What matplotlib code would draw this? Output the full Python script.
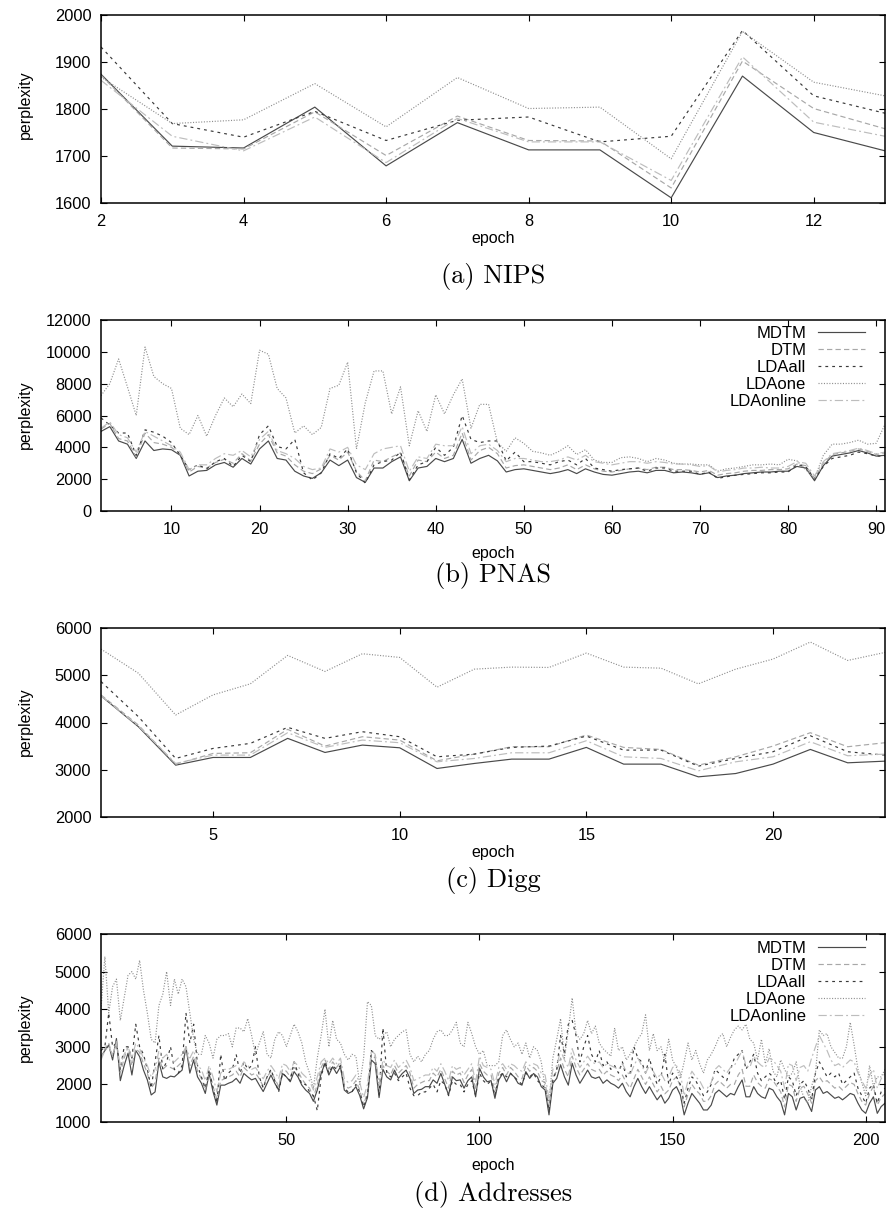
import numpy as np
import matplotlib
matplotlib.use("Agg")
import matplotlib.pyplot as plt

plt.rcParams['font.family'] = ['Liberation Sans', 'DejaVu Sans']

series_names = ["MDTM", "DTM", "LDAall", "LDAone", "LDAonline"]

# ---------------- (a) NIPS : epochs 2..13 ----------------
nips_mdtm = [1874, 1721, 1717, 1804, 1679, 1771, 1713, 1713, 1611, 1870, 1750, 1711]
nips_dtm = [1872, 1717, 1715, 1794, 1701, 1785, 1733, 1732, 1632, 1902, 1801, 1758]
nips_ldaall = [1932, 1769, 1740, 1795, 1733, 1776, 1783, 1730, 1742, 1967, 1828, 1791]
nips_ldaone = [1868, 1769, 1777, 1854, 1762, 1867, 1801, 1804, 1694, 1965, 1857, 1828]
nips_ldaonline = [1861, 1742, 1711, 1783, 1686, 1780, 1730, 1730, 1648, 1911, 1772, 1742]

# ---------------- (b) PNAS : epochs 2..91 ----------------
pnas_mdtm = [5000, 5300, 4400, 4200, 3300, 4400, 3800, 3900, 3850, 3500,
             2200, 2500, 2550, 2900, 3050, 2750, 3300, 2950, 3900, 4400,
             3300, 3200, 2500, 2200, 2050, 2400, 3200, 2850, 3200, 2100,
             1800, 2700, 2700, 3100, 3400, 1900, 2700, 2800, 3300, 3100,
             3300, 4500, 3000, 3300, 3500, 3150, 2450, 2600, 2650, 2550,
             2450, 2350, 2450, 2600, 2350, 2650, 2450, 2300, 2250, 2350,
             2450, 2500, 2400, 2550, 2550, 2400, 2450, 2400, 2300, 2400,
             2100, 2200, 2250, 2350, 2400, 2450, 2450, 2500, 2500, 2800,
             2700, 1900, 2850, 3450, 3550, 3650, 3800, 3650, 3450, 3500]
pnas_dtm = [5150, 5500, 4550, 4400, 3400, 4900, 4300, 4200, 4000, 3550,
            2450, 2800, 2700, 3050, 3250, 3000, 3600, 3150, 4200, 4800,
            3650, 3450, 2900, 2500, 2350, 2650, 3500, 3200, 3700, 2500,
            1900, 3200, 3100, 3400, 3650, 2200, 3200, 3100, 3700, 3300,
            3500, 4900, 3200, 3800, 4000, 3600, 2700, 2850, 2900, 2800,
            2700, 2600, 2700, 2900, 2600, 2900, 2650, 2500, 2450, 2550,
            2650, 2700, 2600, 2750, 2750, 2600, 2600, 2550, 2450, 2550,
            2250, 2350, 2400, 2500, 2550, 2550, 2600, 2600, 2650, 2950,
            2850, 2050, 3000, 3550, 3650, 3750, 3900, 3750, 3550, 3650]
pnas_ldaall = [5850, 5400, 4900, 4900, 3500, 5100, 4950, 4700, 4300, 3500,
               2600, 2900, 2650, 3100, 3300, 2800, 3500, 3100, 4800, 5350,
               4050, 3900, 4500, 2400, 1950, 2400, 3600, 3300, 3900, 2400,
               1750, 2900, 3100, 3200, 3700, 1950, 2900, 3100, 4000, 3500,
               4000, 6000, 4500, 4300, 4400, 4400, 3150, 3700, 3100, 3100,
               3000, 2900, 3100, 3200, 2900, 3300, 2700, 2600, 2500, 2600,
               2650, 2700, 2500, 2700, 2700, 2500, 2500, 2500, 2300, 2450,
               2050, 2150, 2250, 2300, 2350, 2400, 2400, 2450, 2450, 2900,
               2800, 2000, 2800, 3300, 3400, 3500, 3700, 3600, 3450, 3450]
pnas_ldaone = [7250, 8000, 9550, 7800, 6000, 10300, 8450, 8000, 7700, 5200,
               4800, 6000, 4700, 6000, 7100, 6550, 7350, 6750, 10100, 9850,
               7700, 7100, 4900, 5350, 4800, 5250, 7700, 7900, 9350, 3900,
               6800, 8800, 8800, 6100, 7800, 4100, 6300, 5000, 7300, 6100,
               7300, 8300, 5200, 6700, 6700, 4300, 3750, 4600, 4250, 3750,
               3650, 3500, 3750, 4100, 3550, 3850, 3200, 3050, 3050, 3350,
               3400, 3300, 3100, 3300, 3200, 3000, 2950, 2950, 2900, 2900,
               2500, 2650, 2700, 2800, 2900, 2900, 2950, 2900, 3250, 3150,
               2600, 2050, 3500, 4200, 4200, 4300, 4450, 4200, 4250, 5450]
pnas_ldaonline = [5200, 5600, 4800, 4600, 3700, 5000, 4700, 4400, 4100, 3700,
                  2600, 2900, 2900, 3300, 3600, 3500, 3800, 3400, 4500, 5000,
                  3800, 3600, 3300, 2800, 2600, 2700, 3900, 3700, 4000, 2900,
                  2600, 3600, 3900, 4000, 4100, 2500, 3400, 3300, 4200, 4100,
                  4100, 5300, 3600, 4100, 4200, 3800, 3100, 3300, 3300, 3200,
                  3100, 3100, 3200, 3400, 3200, 3500, 3100, 3000, 2900, 3000,
                  3100, 3100, 3000, 3100, 3050, 2950, 2950, 2900, 2800, 2850,
                  2450, 2550, 2600, 2700, 2700, 2750, 2700, 2700, 2800, 3100,
                  3000, 2200, 3100, 3600, 3700, 3800, 3950, 3800, 3600, 3700]

# ---------------- (c) Digg : epochs 2..23 ----------------
digg_mdtm = [4563, 3912, 3097, 3260, 3260, 3664, 3366, 3522, 3465, 3027, 3133,
             3225, 3225, 3473, 3119, 3119, 2850, 2920, 3119, 3430, 3147, 3182]
digg_dtm = [4584, 3947, 3118, 3345, 3360, 3855, 3501, 3699, 3628, 3189, 3331,
            3487, 3487, 3735, 3473, 3430, 3097, 3274, 3501, 3784, 3487, 3572]
digg_ldaall = [4867, 4124, 3239, 3451, 3558, 3897, 3664, 3805, 3699, 3274, 3331,
               3473, 3501, 3713, 3416, 3416, 3076, 3239, 3381, 3720, 3381, 3310]
digg_ldaone = [5554, 5044, 4159, 4584, 4818, 5420, 5080, 5455, 5377, 4747, 5129,
               5172, 5165, 5469, 5172, 5150, 4818, 5129, 5342, 5703, 5313, 5483]
digg_ldaonline = [4563, 3926, 3133, 3310, 3310, 3784, 3473, 3628, 3572, 3168, 3239,
                  3359, 3359, 3614, 3274, 3239, 2977, 3168, 3274, 3593, 3296, 3331]

# ---------------- (d) Addresses : epochs 2..205 ----------------
addr_mdtm = [2740, 2900, 3050, 2650, 3220, 2100, 2500, 2830, 2250, 2900,
             2740, 2380, 2120, 1720, 1800, 2600, 2200, 2160, 2220, 2200,
             2290, 2380, 3000, 2300, 2650, 2200, 2030, 1760, 2290, 1810,
             1450, 1980, 1980, 2030, 2070, 2160, 2030, 2290, 2200, 2120,
             2160, 1980, 1810, 2030, 2250, 2030, 1850, 2290, 2200, 2070,
             2340, 2200, 1980, 1850, 1760, 1550, 1850, 2290, 2560, 2250,
             2470, 2290, 2470, 1850, 1760, 1810, 1940, 1700, 1350, 1650,
             2650, 2550, 1650, 2400, 2200, 2120, 2380, 2160, 2290, 2380,
             2160, 1760, 1850, 1870, 1940, 1940, 2120, 2030, 2290, 2000,
             1720, 2200, 2100, 2120, 1900, 2100, 2200, 1670, 2430, 2200,
             2070, 2100, 1630, 2120, 2290, 2070, 2290, 2200, 2030, 1980,
             2340, 2160, 2290, 2200, 1940, 1850, 1190, 2030, 2160, 2520,
             2200, 1980, 2560, 2250, 2030, 2200, 2380, 2200, 2160, 2200,
             2030, 2120, 2030, 1980, 1900, 2030, 1810, 1670, 1940, 2160,
             1940, 1760, 1940, 1760, 1590, 1720, 1500, 1630, 1850, 1940,
             1720, 1190, 1500, 1760, 1630, 1500, 1320, 1320, 1450, 1760,
             1850, 1760, 1670, 1760, 1720, 1940, 2120, 1670, 1670, 1940,
             1760, 1670, 1630, 1900, 1850, 1670, 1540, 1190, 1760, 1670,
             1320, 1630, 1670, 1500, 1280, 1850, 1940, 1760, 1810, 1720,
             1630, 1670, 1590, 1670, 1760, 1720, 1500, 1320, 1230, 1500,
             1670, 1230, 1410, 1500]
addr_dtm = [2700, 2950, 3100, 2750, 3150, 2300, 2700, 3000, 2500, 2950,
            2850, 2550, 2300, 1900, 2050, 2700, 2400, 2500, 2450, 2400,
            2500, 2600, 2950, 2500, 2750, 2350, 2150, 1850, 2350, 1950,
            1600, 2100, 2150, 2200, 2250, 2350, 2200, 2450, 2350, 2250,
            2300, 2150, 1950, 2200, 2350, 2150, 1950, 2400, 2350, 2200,
            2450, 2350, 2150, 2000, 1900, 1650, 2000, 2450, 2650, 2400,
            2600, 2450, 2600, 2000, 1900, 1950, 2100, 1850, 1450, 1800,
            2800, 2700, 1800, 2500, 2350, 2250, 2500, 2300, 2400, 2500,
            2300, 1900, 2000, 2050, 2100, 2100, 2300, 2200, 2400, 2150,
            1900, 2350, 2250, 2300, 2050, 2250, 2400, 1850, 2550, 2350,
            2250, 2250, 1800, 2300, 2450, 2250, 2450, 2350, 2200, 2150,
            2500, 2350, 2450, 2350, 2100, 2050, 1400, 2200, 2350, 2700,
            2400, 2200, 2750, 2450, 2250, 2400, 2550, 2400, 2350, 2400,
            2250, 2350, 2250, 2200, 2100, 2250, 2050, 1900, 2150, 2400,
            2200, 2000, 2200, 2000, 1800, 1950, 1750, 1850, 2100, 2200,
            1950, 1400, 1750, 2000, 1850, 1750, 1550, 1550, 1700, 2000,
            2100, 2000, 1900, 2000, 2000, 2250, 2400, 1950, 1950, 2250,
            2050, 1950, 1900, 2150, 2100, 1950, 1800, 1400, 2000, 1950,
            1550, 1900, 1950, 1750, 1500, 2100, 2200, 2050, 2100, 2000,
            1900, 1950, 1850, 1950, 2050, 2000, 1750, 1550, 1450, 1750,
            1950, 1450, 1650, 1750]
addr_ldaall = [2900, 3000, 3900, 3000, 3100, 2400, 3000, 3000, 2700, 3600,
               3000, 2800, 2400, 1900, 2600, 3300, 2400, 2600, 3000, 2400,
               2300, 2500, 3900, 3100, 3600, 2500, 2200, 1900, 2400, 1900,
               1500, 2800, 2100, 2300, 2400, 2800, 2300, 2600, 2400, 2500,
               3000, 2200, 1900, 2200, 2400, 2100, 1800, 2300, 2200, 2100,
               2600, 2300, 2000, 2000, 1800, 1700, 1300, 2200, 2600, 2300,
               2500, 2400, 2500, 1900, 1800, 1800, 2000, 1800, 1400, 1700,
               2900, 2800, 1700, 3500, 2300, 2200, 2300, 2100, 2200, 2300,
               1900, 1700, 1700, 1800, 1800, 1900, 2000, 1800, 2100, 2000,
               1700, 2100, 2000, 2000, 1800, 2000, 2100, 1700, 2300, 2100,
               2000, 2100, 1700, 2200, 2300, 2200, 2300, 2200, 2100, 2000,
               2300, 2200, 2300, 2100, 2000, 1900, 1300, 2100, 2400, 3300,
               2800, 3600, 3700, 3300, 2600, 3000, 3300, 2800, 2600, 2900,
               2500, 2600, 2400, 2500, 2300, 2600, 2200, 2300, 3000, 2700,
               2600, 2300, 2700, 2300, 2000, 2200, 2800, 2000, 2300, 2200,
               2000, 1500, 1900, 2200, 2100, 1900, 1700, 1800, 2000, 2400,
               2300, 2200, 2100, 2400, 2700, 2800, 2900, 2400, 2600, 2800,
               2300, 2100, 2200, 2300, 2200, 2000, 2100, 1600, 2200, 2100,
               1700, 2000, 2100, 1900, 1600, 2300, 2600, 2400, 2200, 2300,
               2200, 2300, 2000, 2100, 2200, 2300, 1900, 1700, 1500, 1900,
               2000, 1500, 1800, 1900]
addr_ldaone = [4000, 5400, 3900, 4600, 4800, 3700, 4300, 4900, 5000, 4800,
               5300, 4500, 3900, 3200, 3100, 4100, 4400, 5000, 4100, 4800,
               4400, 4800, 4600, 3900, 3200, 2800, 2800, 3300, 3100, 2700,
               3200, 3300, 3300, 3350, 3000, 3500, 3500, 3400, 3750, 3300,
               2800, 3100, 3400, 2800, 2700, 3200, 3400, 3300, 3000, 3300,
               3600, 3400, 3100, 2600, 2300, 1900, 2700, 3300, 4000, 3000,
               3700, 3200, 3100, 2800, 2650, 2800, 2750, 2000, 2700, 4200,
               4100, 3300, 3200, 3300, 3400, 3000, 3200, 3300, 3400, 3450,
               2800, 2600, 2750, 2600, 2800, 2900, 3200, 3400, 3450, 3300,
               3300, 3450, 3650, 3100, 3000, 3650, 3350, 3000, 2800, 2900,
               2500, 2500, 2500, 2600, 3300, 3450, 3200, 3000, 3100, 2800,
               3100, 2700, 3000, 2900, 2600, 1900, 1500, 2700, 3200, 3750,
               2700, 3450, 4300, 3350, 3200, 3350, 3700, 3350, 3550, 3100,
               2950, 2850, 2750, 3500, 2900, 3000, 2650, 2800, 3000, 3200,
               3350, 3850, 2900, 3350, 2900, 3000, 2600, 3200, 2650, 2450,
               2150, 2600, 3100, 2650, 2900, 2550, 2300, 2650, 2800, 3000,
               3250, 3350, 3000, 3250, 3450, 3550, 3450, 3600, 3200, 3100,
               2650, 3200, 2550, 2950, 2350, 2200, 2650, 2400, 2200, 2300,
               2600, 1950, 1650, 1500, 1950, 2300, 3450, 3300, 3350, 3000,
               2850, 2700, 2700, 3000, 3650, 3050, 2400, 2050, 1700, 2500,
               1950, 2200, 2200, 2400]
addr_ldaonline = [2650, 2900, 3000, 2800, 3100, 2500, 2800, 3000, 2700, 3100,
                  2950, 2700, 2500, 2200, 2400, 2900, 2700, 2800, 2600, 2600,
                  2700, 2800, 3000, 2700, 2900, 2500, 2400, 2100, 2500, 2200,
                  1800, 2300, 2400, 2400, 2450, 2500, 2400, 2600, 2500, 2400,
                  2450, 2300, 2150, 2350, 2500, 2350, 2150, 2550, 2500, 2350,
                  2600, 2500, 2300, 2200, 2100, 1850, 2200, 2600, 2700, 2550,
                  2700, 2550, 2700, 2150, 2050, 2100, 2250, 2050, 1650, 2000,
                  2900, 2800, 2000, 2650, 2500, 2450, 2650, 2450, 2550, 2650,
                  2450, 2100, 2150, 2200, 2250, 2250, 2450, 2350, 2550, 2350,
                  2100, 2500, 2400, 2450, 2250, 2400, 2550, 2050, 2750, 2500,
                  2450, 2400, 2000, 2450, 2550, 2400, 2550, 2500, 2400, 2350,
                  2600, 2500, 2550, 2500, 2300, 2250, 1600, 2400, 2500, 2900,
                  2650, 2450, 2950, 2650, 2450, 2600, 2750, 2600, 2550, 2600,
                  2450, 2550, 2500, 2450, 2400, 2550, 2350, 2250, 2500, 2700,
                  2500, 2300, 2500, 2350, 2150, 2300, 2100, 2200, 2450, 2500,
                  2300, 1700, 2100, 2350, 2200, 2100, 1900, 1900, 2050, 2400,
                  2500, 2400, 2300, 2450, 2500, 2700, 2900, 2500, 2450, 2750,
                  2600, 2500, 2450, 2700, 2650, 2500, 2350, 1900, 2550, 2500,
                  2100, 2450, 2500, 2350, 2700, 3000, 3300, 3100, 2900, 2650,
                  2500, 2550, 2450, 2550, 2650, 2600, 2300, 2100, 1900, 2250,
                  2400, 1900, 2150, 2300]

# ---------------- styles ----------------
styles = {
    "MDTM": dict(color="#4a4a4a", linestyle="-"),
    "DTM": dict(color="#a8a8a8", linestyle=(0, (4.5, 2.7))),
    "LDAall": dict(color="#3a3a3a", linestyle=(0, (2.4, 3.4))),
    "LDAone": dict(color="#8c8c8c", linestyle=(0, (0.9, 1.4))),
    "LDAonline": dict(color="#bdbdbd", linestyle=(0, (7.0, 2.6, 1.6, 2.6))),
}
LW = 0.85

W, H = 886, 1209
fig = plt.figure(figsize=(W / 100, H / 100), dpi=100)


def add_ax(top, bottom, left=101, right=885):
    return fig.add_axes([left / W, 1 - bottom / H, (right - left) / W, (bottom - top) / H])


panels = [
    dict(top=15, bottom=203, data=[nips_mdtm, nips_dtm, nips_ldaall, nips_ldaone, nips_ldaonline],
         xlim=(2, 13), ylim=(1600, 2000), xticks=[2, 4, 6, 8, 10, 12], yticks=np.arange(1600, 2001, 100),
         title="(a) NIPS", title_base=283, epoch_top=231, ylab_c=105, legend=None),
    dict(top=320, bottom=511, data=[pnas_mdtm, pnas_dtm, pnas_ldaall, pnas_ldaone, pnas_ldaonline],
         xlim=(2, 91), ylim=(0, 12000), xticks=np.arange(10, 91, 10), yticks=np.arange(0, 12001, 2000),
         title="(b) PNAS", title_base=582, epoch_top=546, ylab_c=415, legend=326),
    dict(top=628, bottom=817, data=[digg_mdtm, digg_dtm, digg_ldaall, digg_ldaone, digg_ldaonline],
         xlim=(2, 23), ylim=(2000, 6000), xticks=[5, 10, 15, 20], yticks=np.arange(2000, 6001, 1000),
         title="(c) Digg", title_base=887, epoch_top=845, ylab_c=722, legend=None),
    dict(top=934, bottom=1122, data=[addr_mdtm, addr_dtm, addr_ldaall, addr_ldaone, addr_ldaonline],
         xlim=(2, 205), ylim=(1000, 6000), xticks=[50, 100, 150, 200], yticks=np.arange(1000, 6001, 1000),
         title="(d) Addresses", title_base=1201, epoch_top=1158, ylab_c=1028, legend=941),
]

for p in panels:
    ax = add_ax(p["top"], p["bottom"])
    lines = []
    for name, vals in zip(series_names, p["data"]):
        x = np.arange(2, 2 + len(vals))
        ln, = ax.plot(x, vals, lw=LW, label=name, **styles[name])
        lines.append(ln)
    ax.set_xlim(*p["xlim"])
    ax.set_ylim(*p["ylim"])
    ax.set_xticks(p["xticks"])
    ax.set_yticks(p["yticks"])
    ax.tick_params(direction="in", length=4.5, width=0.8, top=True, right=True,
                   labelsize=11.8, colors="black")
    ax.tick_params(axis="x", pad=8)
    ax.tick_params(axis="y", pad=7)
    for sp in ax.spines.values():
        sp.set_linewidth(1.1)
        sp.set_color("black")
    fig.text(493 / W, 1 - p["epoch_top"] / H, "epoch", ha="center", va="top", fontsize=11.5)
    fig.text(25 / W, 1 - p["ylab_c"] / H, "perplexity", ha="center", va="center",
             rotation=90, fontsize=11.5)
    fig.text(493 / W, 1 - p["title_base"] / H, p["title"], ha="center", va="baseline",
             fontsize=19, family="cmr10")
    if p["legend"] is not None:
        h = p["bottom"] - p["top"]
        ax.legend(handles=lines, loc="upper right", markerfirst=False, frameon=False,
                  bbox_to_anchor=((865 - 101) / 784, (p["bottom"] - p["legend"]) / h),
                  borderaxespad=0, borderpad=0, fontsize=12, handlelength=2.8,
                  handletextpad=0.72, labelspacing=0.12)

fig.savefig("out.png", dpi=100)
